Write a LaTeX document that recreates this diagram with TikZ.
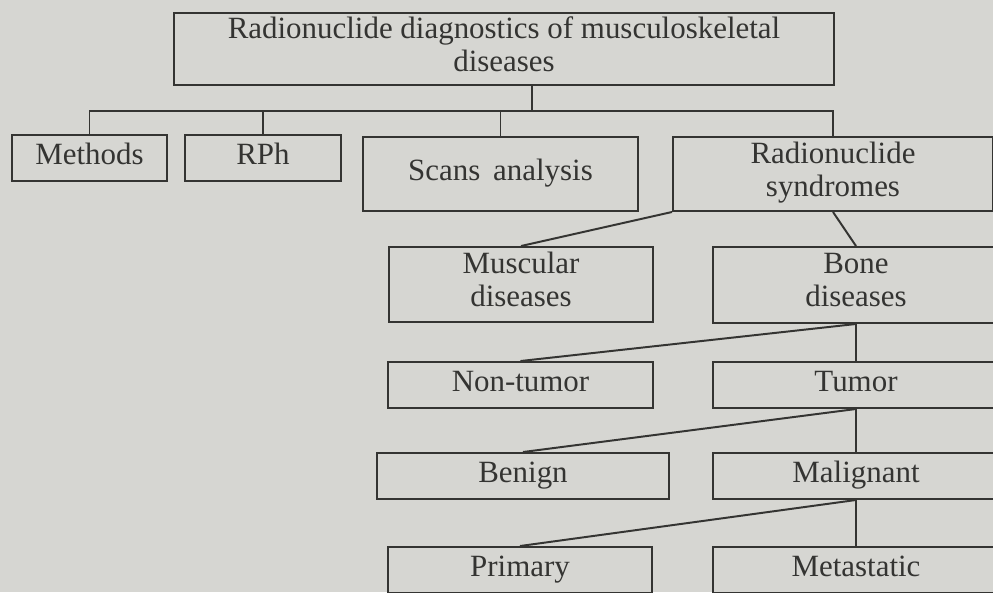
\documentclass[tikz,border=0pt]{standalone}
\usepackage{fontspec}
\setmainfont{Liberation Serif}
\usetikzlibrary{positioning}
\definecolor{paper}{RGB}{214,214,210}
\definecolor{ink}{RGB}{52,52,50}

\begin{document}
\begin{tikzpicture}[x=0.025cm, y=-0.025cm, line width=1.4pt,
    box/.style={draw=ink, text=ink, align=center, inner sep=0pt, font=\fontsize{22}{23.5}\selectfont,
        execute at begin node=\strut, execute at end node=\strut}]
    \fill[paper] (0,0) rectangle (993,592);
    \useasboundingbox (0,0) rectangle (993,592);
    \node[box, minimum width=660*0.025cm, minimum height=72*0.025cm] (top) at (504,49) {Radionuclide diagnostics of musculoskeletal\\diseases};
    \node[box, minimum width=155*0.025cm, minimum height=46*0.025cm] (methods) at (89.5,158) {Methods};
    \node[box, minimum width=156*0.025cm, minimum height=46*0.025cm] (rph) at (263,158) {RPh};
    \node[box, minimum width=275*0.025cm, minimum height=74*0.025cm] (scans) at (500.5,174) {Scans\, analysis};
    \node[box, minimum width=320*0.025cm, minimum height=74*0.025cm] (syndromes) at (833,174) {Radionuclide\\syndromes};
    \node[box, minimum width=264*0.025cm, minimum height=75*0.025cm] (muscular) at (521,284.5) {Muscular\\diseases};
    \node[box, minimum width=286*0.025cm, minimum height=76*0.025cm] (bone) at (856,285) {Bone\\diseases};
    \node[box, minimum width=265*0.025cm, minimum height=46*0.025cm] (nontumor) at (520.5,385) {Non-tumor};
    \node[box, minimum width=286*0.025cm, minimum height=46*0.025cm] (tumor) at (856,385) {Tumor};
    \node[box, minimum width=292*0.025cm, minimum height=46*0.025cm] (benign) at (523,476) {Benign};
    \node[box, minimum width=286*0.025cm, minimum height=46*0.025cm] (malignant) at (856,476) {Malignant};
    \node[box, minimum width=264*0.025cm, minimum height=46*0.025cm] (primary) at (520,570) {Primary};
    \node[box, minimum width=286*0.025cm, minimum height=46*0.025cm] (metastatic) at (856,570) {Metastatic};
    \coordinate (hub) at (532,111);
    \draw[ink] (top.south -| hub) -- (hub);
    \draw[ink] (methods.north) |- (syndromes.north |- hub) -- (syndromes.north);
    \draw[ink] (rph.north) -- (rph.north |- hub);
    \draw[ink] (scans.north) -- (scans.north |- hub);
    \draw[ink] (syndromes.south west) -- (muscular.north);
    \draw[ink] (syndromes.south) -- (bone.north);
    \draw[ink] (bone.south) -- (nontumor.north);
    \draw[ink] (bone.south) -- (tumor.north);
    \draw[ink] (tumor.south) -- (benign.north);
    \draw[ink] (tumor.south) -- (malignant.north);
    \draw[ink] (malignant.south) -- (primary.north);
    \draw[ink] (malignant.south) -- (metastatic.north);
\end{tikzpicture}
\end{document}
